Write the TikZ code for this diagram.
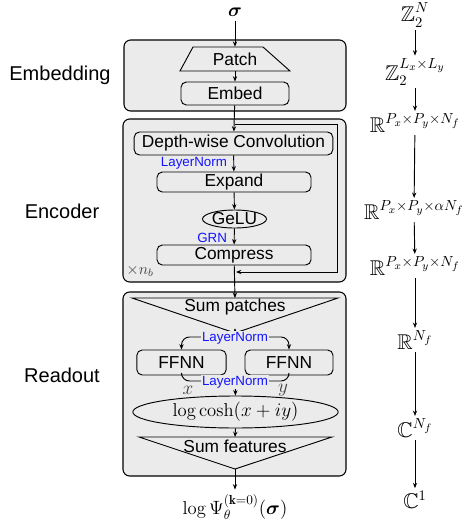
\documentclass[tikz,border=0pt]{standalone}
\usepackage{amsmath,amssymb,bm}
\usepackage{fontspec}
\newfontfamily\arialf{Liberation Sans}
\usetikzlibrary{arrows.meta,shapes.geometric,calc}
\definecolor{panelgray}{RGB}{235,235,235}
\definecolor{normblue}{RGB}{20,20,255}
\begin{document}
\begin{tikzpicture}[x=0.75pt,y=-0.75pt,
 >={Stealth[length=4pt,width=3.2pt]},
 panel/.style={draw, line width=0.8pt, rounded corners=5pt, fill=panelgray},
 blk/.style={draw, line width=0.7pt, rounded corners=4pt, font=\arialf\fontsize{13}{15}\selectfont, inner sep=0pt},
 shp/.style={draw, line width=0.7pt, fill=panelgray},
 shptext/.style={font=\arialf\fontsize{13}{15}\selectfont, inner sep=0pt},
 sidelbl/.style={font=\arialf\fontsize{15}{18}\selectfont},
 bluelbl/.style={text=normblue, font=\arialf\fontsize{10}{12}\selectfont, inner sep=0.6pt},
 mth/.style={font=\fontsize{14}{16}\selectfont},
 rmth/.style={font=\fontsize{16}{18}\selectfont, inner sep=2pt},
 conn/.style={->, line width=0.7pt},
 ln/.style={line width=0.7pt},
]
\useasboundingbox (0,0) rectangle (465,522);

% side labels
\node[sidelbl] (lemb) at (60,75) {Embedding};
\node[sidelbl] (lenc) at (62,211) {Encoder};
\node[sidelbl] (lread) at (62,375) {Readout};

% panels
\path[panel] (124,40) rectangle (346,111);
\path[panel] (123,119) rectangle (346,282);
\path[panel] (123,292) rectangle (346,476);

% input
\node[mth] (sigma) at (235,12) {$\bm{\sigma}$};

% Embedding
\draw[shp] (193,47) -- (263,47) -- (290,71) -- (180,71) -- cycle;
\node[shptext, minimum height=18pt, minimum width=60pt] (patch) at (235,59) {Patch};
\node[blk, minimum width=81pt, minimum height=17.25pt] (embed) at (235,93.5) {Embed};

% Encoder
\node[blk, minimum width=149pt, minimum height=17.25pt] (dwc) at (233.5,143.5) {Depth-wise Convolution};
\node[blk, minimum width=115.5pt, minimum height=15pt] (expand) at (234,182) {Expand};
\node[draw, ellipse, line width=0.7pt, inner sep=0pt, minimum width=47pt, minimum height=13.5pt, font=\arialf\fontsize{13}{15}\selectfont] (gelu) at (234.5,219) {GeLU};
\node[blk, minimum width=115.5pt, minimum height=15pt] (compress) at (234,255) {Compress};
\node[font=\fontsize{12}{14}\selectfont, text=black!75] (nb) at (140,271) {$\times n_b$};

% Readout
\draw[shp] (132,298) -- (338,298) -- (235,333) -- cycle;
\node[shptext, minimum height=12pt] (sp) at (235,307) {Sum patches};
\coordinate (spapex) at (235,333);
\node[blk, minimum width=67pt, minimum height=18.75pt] (ffl) at (181.5,362.5) {FFNN};
\node[blk, minimum width=66pt, minimum height=18.75pt] (ffr) at (289,362.5) {FFNN};
\node[draw, ellipse, line width=0.7pt, inner sep=0pt, minimum width=154pt, minimum height=24pt, mth] (lc) at (235.5,412) {$\log\cosh(x+iy)$};
\draw[shp] (139,437) -- (332,437) -- (235,469) -- cycle;
\node[shptext, minimum height=12pt] (sf) at (235,446) {Sum features};
\coordinate (sfapex) at (235,469);
\node[mth] (out) at (235,507) {$\log\Psi_\theta^{(\mathbf{k}=0)}(\bm{\sigma})$};

% connectors
\draw[conn] (sigma) -- (patch.north);
\draw[conn] (patch.south) -- (embed);
\draw[conn] (embed) -- (dwc);
\coordinate (skipstart) at (235,124);
\coordinate (skipend) at (236,272);
\draw[conn] (skipstart) -- (337,124) |- (skipend);
\draw[conn] (dwc) -- (expand);
\draw[conn] (expand) -- (gelu);
\draw[conn] (gelu) -- (compress);
\draw[conn] (compress) -- (235,298);
\draw[conn, rounded corners=6pt] (spapex) -- ++(0,4) -| (ffl.north);
\draw[conn, rounded corners=6pt] (spapex) -- ++(0,4) -| (ffr.north);
\coordinate (merge) at (235,381);
\draw[ln, rounded corners=6pt] (ffl.south) |- (merge);
\draw[ln, rounded corners=6pt] (ffr.south) |- (merge);
\draw[conn] (merge) -- (lc.north);
\draw[conn] (lc.south) -- (235,437);
\draw[conn] (sfapex) -- (out);

% blue labels
\node[bluelbl, anchor=east] (ln1) at (228,163) {LayerNorm};
\node[bluelbl, anchor=east] (grn) at (228,238) {GRN};
\node[bluelbl, fill=panelgray] (ln2) at (235,338) {LayerNorm};
\node[bluelbl, fill=panelgray] (ln3) at (235,382) {LayerNorm};
\node[mth, text=black!75] (xl) at (188,390) {$x$};
\node[mth, text=black!75] (yl) at (283,390) {$y$};

% right column
\node[rmth] (d1) at (415,15) {$\mathbb{Z}_2^{N}$};
\node[rmth] (d2) at (415,72) {$\mathbb{Z}_2^{L_x\times L_y}$};
\node[rmth] (d3) at (415,123) {$\mathbb{R}^{P_x\times P_y\times N_f}$};
\node[rmth] (d4) at (414,210) {$\mathbb{R}^{P_x\times P_y\times \alpha N_f}$};
\node[rmth] (d5) at (415,266) {$\mathbb{R}^{P_x\times P_y\times N_f}$};
\node[rmth] (d6) at (415,340) {$\mathbb{R}^{N_f}$};
\node[rmth] (d7) at (415,428) {$\mathbb{C}^{N_f}$};
\node[rmth] (d8) at (415,500) {$\mathbb{C}^{1}$};
\draw[conn] (d1) -- (d2);
\draw[conn] (d2) -- (d3);
\draw[conn] (d3) -- (d4);
\draw[conn] (d4) -- (d5);
\draw[conn] (d5) -- (d6);
\draw[conn] (d6) -- (d7);
\draw[conn] (d7) -- (d8);
\end{tikzpicture}
\end{document}
